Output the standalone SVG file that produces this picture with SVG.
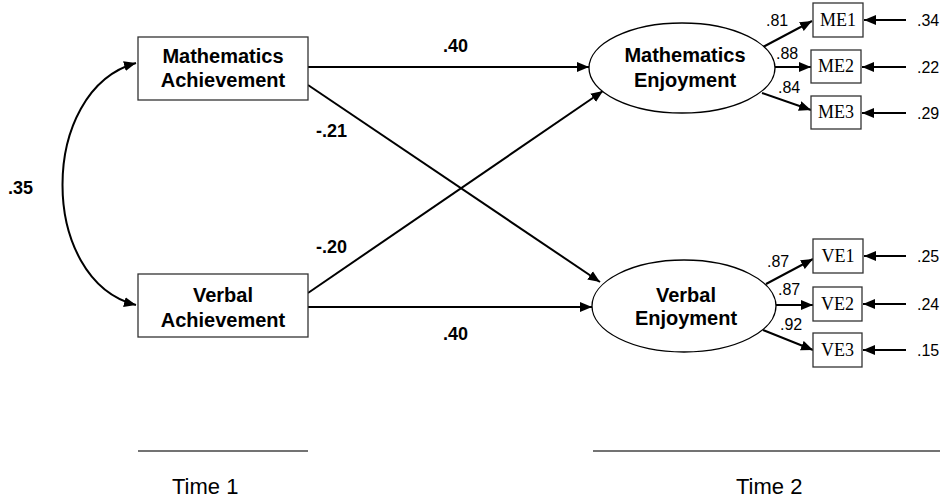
<svg xmlns="http://www.w3.org/2000/svg" width="947" height="498" viewBox="0 0 947 498">
<defs>
<marker id="arr" markerUnits="userSpaceOnUse" markerWidth="13" markerHeight="11" refX="12" refY="5.5" orient="auto-start-reverse">
<path d="M0,0.5 L12,5.5 L0,10.5 z" fill="#000"/>
</marker>
<style>
.box{fill:#fff;stroke:#333;stroke-width:1.3}
.ell{fill:#fff;stroke:#000;stroke-width:1.3}
.bt{font-family:"Liberation Sans",Arial,sans-serif;font-weight:bold;font-size:20px;text-anchor:middle;fill:#000}
.el{font-family:"Liberation Sans",Arial,sans-serif;font-weight:bold;font-size:18px;fill:#000}
.ind{font-family:"Liberation Serif","Times New Roman",serif;font-size:18px;text-anchor:middle;fill:#000}
.ld{font-family:"Liberation Sans",Arial,sans-serif;font-size:16px;fill:#000}
.tm{font-family:"Liberation Sans",Arial,sans-serif;font-size:22px;fill:#000}
.c{fill:none;stroke:#000;stroke-width:2;marker-end:url(#arr)}
</style>
</defs>
<g id="connectors">
<path class="c" d="M136,63 C38,90 38,280 136,305" marker-start="url(#arr)"/>
<path class="c" d="M308,67 L589,67"/>
<path class="c" d="M308,85 L600,282"/>
<path class="c" d="M308,293 L603,91"/>
<path class="c" d="M308,307 L592,307"/>
<path class="c" d="M763,47 L812,21"/>
<path class="c" d="M775,67 L811,67"/>
<path class="c" d="M762,93 L811,110"/>
<path class="c" d="M766,284 L813,259"/>
<path class="c" d="M776,305 L813,305"/>
<path class="c" d="M763,330 L813,350"/>
<path class="c" d="M906,20 L864,20"/>
<path class="c" d="M906,67 L862,67"/>
<path class="c" d="M906,113 L862,113"/>
<path class="c" d="M906,256 L864,256"/>
<path class="c" d="M906,304 L863,304"/>
<path class="c" d="M906,350 L863,350"/>
</g>
<g id="labels">
<text class="el" x="8" y="194">.35</text>
<text class="el" x="443" y="52">.40</text>
<text class="el" x="316" y="137">-.21</text>
<text class="el" x="316" y="253">-.20</text>
<text class="el" x="443" y="340">.40</text>
<text class="ld" x="766" y="26">.81</text>
<text class="ld" x="776" y="59">.88</text>
<text class="ld" x="778" y="93">.84</text>
<text class="ld" x="767" y="267">.87</text>
<text class="ld" x="778" y="295">.87</text>
<text class="ld" x="780" y="330">.92</text>
<text class="ld" x="917" y="26">.34</text>
<text class="ld" x="917" y="73">.22</text>
<text class="ld" x="917" y="119">.29</text>
<text class="ld" x="917" y="262">.25</text>
<text class="ld" x="917" y="310">.24</text>
<text class="ld" x="917" y="356">.15</text>
</g>
<g id="math-achievement">
<rect class="box" x="138" y="37" width="170" height="63"/>
<text class="bt" x="223" y="63">Mathematics</text>
<text class="bt" x="223" y="87">Achievement</text>
</g>
<g id="verbal-achievement">
<rect class="box" x="138" y="274" width="170" height="63"/>
<text class="bt" x="223" y="302">Verbal</text>
<text class="bt" x="223" y="327">Achievement</text>
</g>
<g id="math-enjoyment">
<ellipse class="ell" cx="682" cy="68" rx="93" ry="45"/>
<text class="bt" x="685" y="62">Mathematics</text>
<text class="bt" x="685" y="87">Enjoyment</text>
</g>
<g id="verbal-enjoyment">
<ellipse class="ell" cx="684" cy="306" rx="92" ry="46"/>
<text class="bt" x="686" y="302">Verbal</text>
<text class="bt" x="686" y="325">Enjoyment</text>
</g>
<g id="ME1"><rect class="box" x="813" y="3" width="50" height="34"/><text class="ind" x="838" y="26">ME1</text></g>
<g id="ME2"><rect class="box" x="811" y="50" width="50" height="33"/><text class="ind" x="836" y="72">ME2</text></g>
<g id="ME3"><rect class="box" x="811" y="96" width="50" height="33"/><text class="ind" x="836" y="118">ME3</text></g>
<g id="VE1"><rect class="box" x="813" y="239" width="50" height="34"/><text class="ind" x="838" y="262">VE1</text></g>
<g id="VE2"><rect class="box" x="813" y="287" width="49" height="34"/><text class="ind" x="837.5" y="310">VE2</text></g>
<g id="VE3"><rect class="box" x="813" y="333" width="49" height="34"/><text class="ind" x="837.5" y="356">VE3</text></g>
<g id="time">
<line x1="138" y1="451" x2="308" y2="451" stroke="#444" stroke-width="1.3"/>
<line x1="593" y1="451" x2="940" y2="451" stroke="#444" stroke-width="1.3"/>
<text class="tm" x="172" y="494">Time 1</text>
<text class="tm" x="736" y="494">Time 2</text>
</g>
</svg>
